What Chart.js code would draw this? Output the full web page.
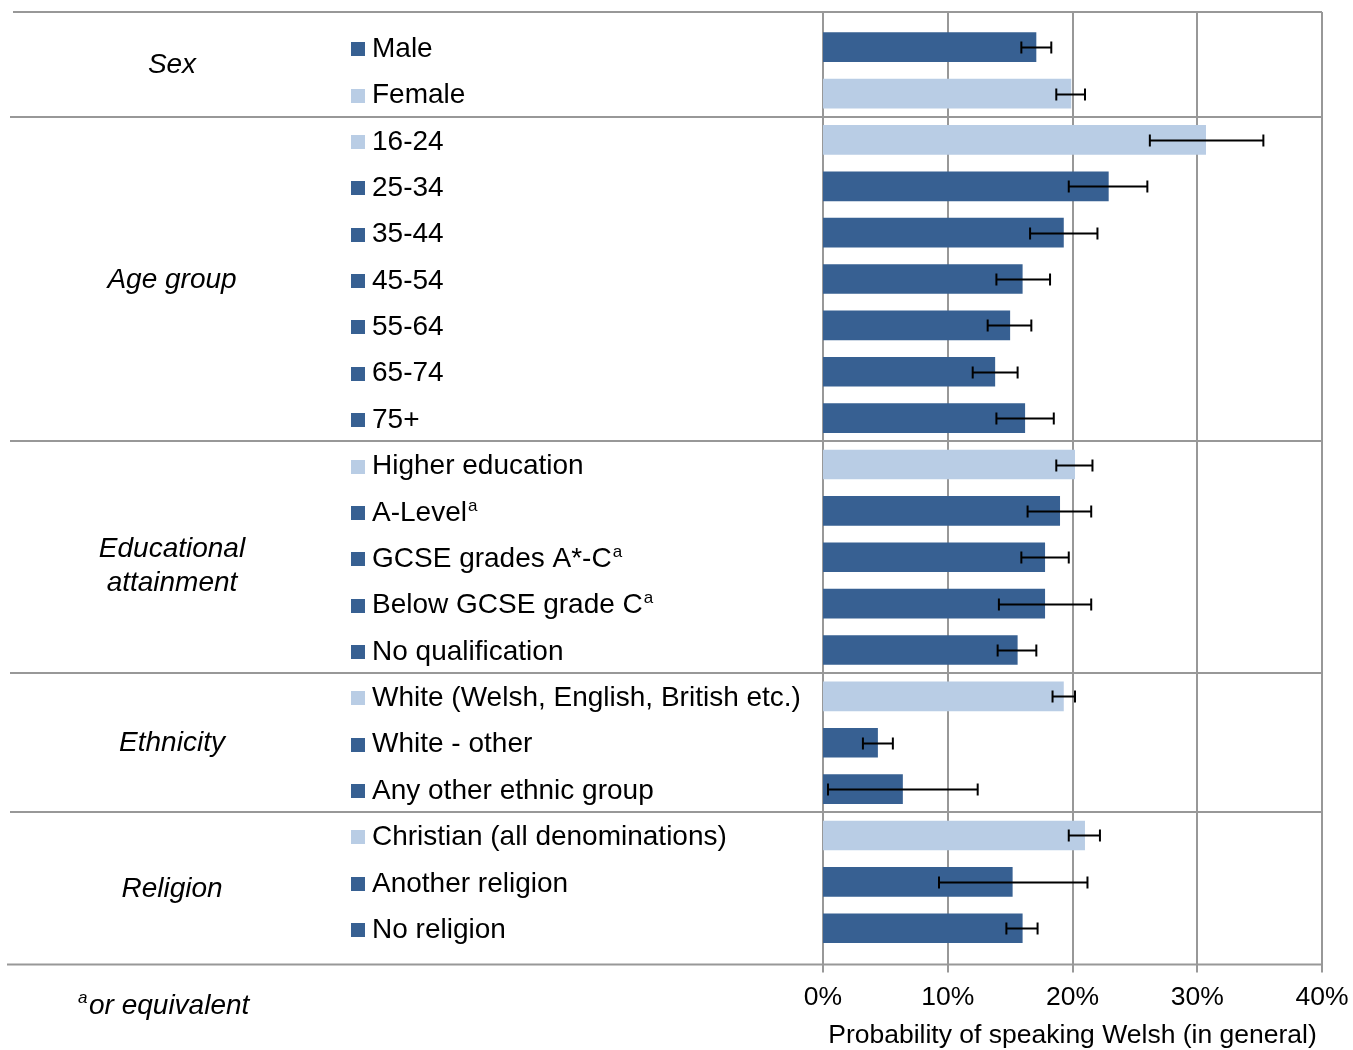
<!DOCTYPE html>
<html>
<head>
<meta charset="utf-8">
<script src="https://cdn.jsdelivr.net/npm/chart.js@4"></script>
<style>
	body { margin: 0; background: #fff; }
</style>
</head>
<body>
<canvas id="myChart" width="1353" height="1050"></canvas>
<script>
// categories, top to bottom
const categories = [
	"Male", "Female",
	"16-24", "25-34", "35-44", "45-54", "55-64", "65-74", "75+",
	"Higher education", "A-Level", "GCSE grades A*-C", "Below GCSE grade C", "No qualification",
	"White (Welsh, English, British etc.)", "White - other", "Any other ethnic group",
	"Christian (all denominations)", "Another religion", "No religion"
];
// superscript footnote marks after some labels
const superscripts = ["", "", "", "", "", "", "", "", "", "", "a", "a", "a", "", "", "", "", "", "", ""];

const groupNames = ["Sex", "Age group", ["Educational", "attainment"], "Ethnicity", "Religion"];
const groupSizes = [2, 7, 5, 3, 3];
// reference category of each group (light bars)
const referenceCategories = ["Female", "16-24", "Higher education", "White (Welsh, English, British etc.)", "Christian (all denominations)"];

// probability (%) and confidence interval
const probability = [17.1, 19.9, 30.7, 22.9, 19.3, 16.0, 15.0, 13.8, 16.2, 20.2, 19.0, 17.8, 17.8, 15.6, 19.3, 4.4, 6.4, 21.0, 15.2, 16.0];
const ciLow = [15.9, 18.7, 26.2, 19.7, 16.6, 13.9, 13.2, 12.0, 13.9, 18.7, 16.4, 15.9, 14.1, 14.0, 18.4, 3.2, 0.4, 19.7, 9.3, 14.7];
const ciHigh = [18.3, 21.0, 35.3, 26.0, 22.0, 18.2, 16.7, 15.6, 18.5, 21.6, 21.5, 19.7, 21.5, 17.1, 20.2, 5.6, 12.4, 22.2, 21.2, 17.2];

const xTicks = [0, 10, 20, 30, 40];
const xTitle = "Probability of speaking Welsh (in general)";
const footnote = "or equivalent";

const DARK = "#376092";
const LIGHT = "#B9CDE5";
const FONT = '"Liberation Sans", Arial, sans-serif';

const barColors = categories.map(c => referenceCategories.includes(c) ? LIGHT : DARK);

function line(ctx, x1, y1, x2, y2) {
	ctx.beginPath();
	ctx.moveTo(x1, y1);
	ctx.lineTo(x2, y2);
	ctx.stroke();
}

// pixel positions of the table lines between groups
function groupBounds(chart) {
	const { chartArea, scales: { y } } = chart;
	let bounds = [chartArea.top - 12];
	let idx = 0;
	groupSizes.forEach((s, g) => {
		idx += s;
		if (g < groupSizes.length - 1) {
			bounds.push(Math.round((y.getPixelForValue(idx - 1) + y.getPixelForValue(idx)) / 2));
		}
	});
	bounds.push(chartArea.bottom + 13);
	return bounds;
}

const tablePlugin = {
	id: "tableLines",
	beforeDatasetsDraw(chart) {
		const { ctx, chartArea, scales: { x } } = chart;
		const bounds = groupBounds(chart);
		const top = bounds[0];
		const bottom = bounds[bounds.length - 1];
		ctx.save();
		ctx.strokeStyle = "#989898";
		ctx.lineWidth = 2;
		// vertical grid lines
		x.ticks.forEach(t => {
			const px = Math.round(x.getPixelForValue(t.value));
			line(ctx, px, top, px, bottom + 8);
		});
		line(ctx, 13, top, chartArea.right, top);
		for (let k = 1; k < bounds.length - 1; k++) {
			line(ctx, 10, bounds[k], chartArea.right, bounds[k]);
		}
		line(ctx, 7, bottom, chartArea.right, bottom);
		ctx.restore();
	},
	afterDatasetsDraw(chart) {
		// error bars
		const { ctx, scales: { x, y } } = chart;
		ctx.save();
		ctx.strokeStyle = "#000";
		ctx.lineWidth = 2;
		categories.forEach((c, i) => {
			const py = Math.round(y.getPixelForValue(i)) + 0.5;
			const x1 = x.getPixelForValue(ciLow[i]);
			const x2 = x.getPixelForValue(ciHigh[i]);
			line(ctx, x1, py, x2, py);
			line(ctx, x1, py - 6, x1, py + 6);
			line(ctx, x2, py - 6, x2, py + 6);
		});
		ctx.restore();
	},
	afterDraw(chart) {
		const { ctx, scales: { y } } = chart;
		ctx.save();
		ctx.fillStyle = "#000";
		ctx.textBaseline = "middle";
		// category labels with little squares
		categories.forEach((c, i) => {
			const py = y.getPixelForValue(i) + 2;
			ctx.fillStyle = barColors[i];
			ctx.fillRect(351, Math.round(py - 7), 14, 14);
			ctx.fillStyle = "#000";
			ctx.font = "28px " + FONT;
			ctx.textAlign = "left";
			ctx.fillText(c, 372, py);
			if (superscripts[i]) {
				const w = ctx.measureText(c).width;
				ctx.font = "17px " + FONT;
				ctx.fillText(superscripts[i], 372 + w + 1, py - 7);
			}
		});
		// group labels
		const bounds = groupBounds(chart);
		ctx.font = "italic 28px " + FONT;
		ctx.textAlign = "center";
		groupNames.forEach((g, k) => {
			const mid = (bounds[k] + bounds[k + 1]) / 2;
			if (Array.isArray(g)) {
				ctx.fillText(g[0], 172, mid - 8);
				ctx.fillText(g[1], 172, mid + 26);
			} else {
				ctx.fillText(g, 172, mid + 1);
			}
		});
		// footnote
		const bottom = bounds[bounds.length - 1];
		ctx.textAlign = "left";
		ctx.font = "italic 17px " + FONT;
		ctx.fillText("a", 78, bottom + 34);
		ctx.font = "italic 28px " + FONT;
		ctx.fillText(footnote, 89, bottom + 42);
		ctx.restore();
	}
};

const ctx = document.getElementById("myChart").getContext("2d");
const myChart = new Chart(ctx, {
	type: "bar",
	data: {
		labels: categories,
		datasets: [
			{
				label: "Probability",
				data: probability,
				backgroundColor: barColors,
				borderWidth: 0,
				barPercentage: 0.64,
				categoryPercentage: 1,
			},
		],
	},
	options: {
		indexAxis: "y",
		responsive: false,
		animation: false,
		layout: {
			padding: { left: 823, right: 31, top: 24, bottom: 0 },
		},
		plugins: {
			legend: { display: false },
			tooltip: { enabled: false },
		},
		scales: {
			x: {
				min: 0,
				max: 40,
				afterBuildTicks: (scale) => {
					scale.ticks = xTicks.map(v => ({ value: v }));
				},
				afterFit: (scale) => {
					// the labels fit in the layout padding already
					scale.paddingLeft = 0;
					scale.paddingRight = 0;
				},
				grid: { display: false, drawTicks: false },
				border: { display: false },
				ticks: {
					padding: 30,
					color: "#000",
					font: { size: 26.5, family: FONT },
					callback: (v) => v + "%",
				},
				title: {
					display: true,
					text: xTitle,
					color: "#000",
					font: { size: 26.5, family: FONT },
					padding: { top: -23, bottom: -2 },
				},
			},
			y: {
				display: false,
			},
		},
	},
	plugins: [tablePlugin],
});
</script>
</body>
</html>
